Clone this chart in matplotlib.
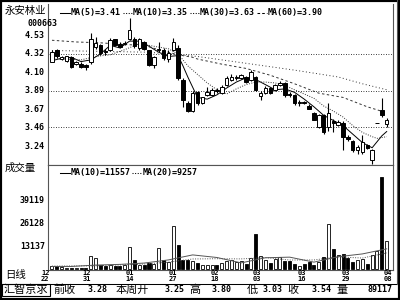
import matplotlib
matplotlib.use("Agg")
import numpy as np
import matplotlib.pyplot as plt
from matplotlib.lines import Line2D
from matplotlib.patches import Rectangle

plt.rcParams['font.family'] = ['DejaVu Sans Mono', 'Noto Sans CJK SC']

# daily candles (70 bars)
opens = [4.23, 4.36, 4.26, 4.24, 4.28, 4.20, 4.20, 4.19, 4.22, 4.40,
         4.42, 4.35, 4.37, 4.49, 4.44, 4.44, 4.50, 4.49, 4.39, 4.46,
         4.36, 4.19, 4.36, 4.37, 4.26, 4.37, 4.39, 4.02, 3.75, 3.65,
         3.87, 3.74, 3.84, 3.84, 3.90, 3.86, 3.95, 4.01, 4.04, 4.04,
         4.05, 4.01, 4.05, 3.83, 3.86, 3.92, 3.90, 3.95, 3.98, 3.85,
         3.84, 3.75, 3.76, 3.71, 3.63, 3.46, 3.60, 3.46, 3.53, 3.49,
         3.51, 3.35, 3.30, 3.19, 3.17, 3.25, 3.08, 3.51, 3.66, 3.50]
highs = [4.37, 4.38, 4.29, 4.30, 4.29, 4.24, 4.22, 4.20, 4.57, 4.52,
         4.44, 4.38, 4.51, 4.50, 4.46, 4.47, 4.74, 4.52, 4.51, 4.47,
         4.37, 4.30, 4.46, 4.39, 4.36, 4.51, 4.42, 4.04, 3.77, 3.88,
         3.89, 3.82, 3.93, 3.92, 3.92, 3.95, 4.06, 4.08, 4.07, 4.09,
         4.06, 4.13, 4.06, 3.88, 3.94, 3.93, 3.97, 4.00, 3.99, 3.87,
         3.85, 3.78, 3.77, 3.73, 3.64, 3.62, 3.62, 3.74, 3.56, 3.54,
         3.53, 3.37, 3.31, 3.25, 3.37, 3.26, 3.21, 3.51, 3.80, 3.57]
lows = [4.22, 4.27, 4.25, 4.23, 4.16, 4.19, 4.15, 4.13, 4.20, 4.38,
        4.31, 4.31, 4.35, 4.41, 4.39, 4.43, 4.48, 4.39, 4.37, 4.36,
        4.18, 4.16, 4.34, 4.25, 4.23, 4.35, 4.02, 3.70, 3.64, 3.64,
        3.72, 3.73, 3.83, 3.83, 3.86, 3.85, 3.94, 4.00, 4.02, 4.03,
        3.98, 4.00, 3.88, 3.78, 3.85, 3.85, 3.89, 3.94, 3.82, 3.82,
        3.72, 3.71, 3.73, 3.67, 3.54, 3.45, 3.38, 3.42, 3.40, 3.47,
        3.19, 3.30, 3.17, 3.15, 3.15, 3.21, 3.03, 3.51, 3.58, 3.46]
closes = [4.34, 4.30, 4.28, 4.29, 4.17, 4.23, 4.17, 4.17, 4.49, 4.45,
          4.33, 4.34, 4.48, 4.42, 4.40, 4.45, 4.60, 4.41, 4.49, 4.38,
          4.19, 4.28, 4.38, 4.27, 4.33, 4.46, 4.04, 3.78, 3.65, 3.86,
          3.74, 3.81, 3.87, 3.90, 3.88, 3.93, 4.04, 4.05, 4.05, 4.07,
          3.99, 4.11, 3.90, 3.86, 3.92, 3.86, 3.96, 3.98, 3.84, 3.84,
          3.74, 3.76, 3.75, 3.68, 3.55, 3.60, 3.40, 3.63, 3.51, 3.52,
          3.35, 3.32, 3.19, 3.23, 3.29, 3.22, 3.19, 3.51, 3.60, 3.54]
volumes = [1700, 1700, 1100, 1000, 1000, 1000, 1000, 1000, 7700, 6600,
           2600, 2000, 2200, 1800, 1800, 2200, 12600, 5100, 2600, 2300,
           3500, 3200, 12200, 5100, 4200, 24500, 13900, 5100, 5100, 4500,
           3500, 2600, 2300, 2600, 2600, 3500, 4700, 5500, 4400, 4500,
           3200, 6600, 19800, 7500, 5500, 3500, 6000, 7100, 4700, 4700,
           3200, 1800, 3200, 3900, 2300, 3900, 7100, 25800, 11700, 8100,
           8500, 6400, 4200, 5400, 5800, 2800, 7900, 10400, 52000, 16000]

# moving averages read at a few bars
ma5_idx = [0, 2, 4, 6, 8, 10, 12, 14, 16, 18, 20, 22, 24, 26, 27, 28, 30, 32, 34,
           36, 38, 40, 42, 44, 46, 48, 50, 52, 54, 56, 58, 60, 62, 64, 66, 67, 68, 69]
ma5 = [4.24, 4.27, 4.28, 4.23, 4.25, 4.32, 4.42, 4.39, 4.47, 4.47, 4.41, 4.34, 4.29,
       4.30, 4.18, 4.05, 3.81, 3.79, 3.84, 3.92, 3.99, 4.04, 4.02, 3.96, 3.90, 3.91,
       3.87, 3.79, 3.70, 3.60, 3.54, 3.48, 3.38, 3.28, 3.22, 3.29, 3.36, 3.41]
ma10_idx = [0, 3, 6, 9, 12, 15, 18, 21, 24, 26, 28, 30, 32, 34, 36, 38, 40, 42, 44,
            46, 48, 50, 52, 54, 56, 58, 60, 62, 64, 66, 67, 68, 69]
ma10 = [4.26, 4.26, 4.25, 4.29, 4.31, 4.37, 4.44, 4.41, 4.38, 4.32, 4.18, 4.08, 3.98,
        3.90, 3.85, 3.91, 3.96, 3.99, 3.99, 3.98, 3.95, 3.90, 3.85, 3.80, 3.71, 3.65,
        3.58, 3.48, 3.40, 3.35, 3.33, 3.34, 3.35]
ma30_idx = [0, 5, 10, 15, 19, 22, 26, 29, 30, 35, 40, 45, 50, 55, 60, 65, 69]
ma30 = [4.48, 4.46, 4.45, 4.43, 4.42, 4.37, 4.31, 4.28, 4.26, 4.20, 4.15, 4.07, 3.97,
        3.86, 3.81, 3.70, 3.63]
ma60_idx = [0, 10, 20, 30, 40, 50, 59, 64, 69]
ma60 = [4.36, 4.35, 4.34, 4.29, 4.21, 4.13, 4.05, 3.97, 3.90]

vma10_idx = [0, 4, 9, 14, 19, 24, 29, 34, 39, 44, 49, 54, 59, 64, 69]
vma10 = [1600, 1600, 2380, 2770, 3520, 5300, 8130, 6670, 3620, 6520, 6860, 4040,
         7100, 8690, 11557]
vma20_idx = [0, 9, 19, 24, 29, 34, 39, 44, 49, 54, 59, 64, 69]
vma20 = [1800, 2000, 2950, 4035, 5825, 5985, 5875, 6595, 5240, 5280, 6980, 6365, 9257]

price_ticks = [4.53, 4.32, 4.10, 3.89, 3.67, 3.46, 3.24]
price_grid = [4.32, 3.89, 3.46]
vol_ticks = [39119, 26128, 13137]
date_labels = ["12/22", "12/31", "01/14", "01/27", "02/18", "03/03", "03/16", "03/29", "04/08"]
date_pos = [-1.4, 7.2, 16.1, 24.9, 33.6, 42.3, 51.5, 60.6, 69.3]

W, H = 400, 300
CJK = ['Noto Sans CJK SC', 'DejaVu Sans']
GRAY = '#555555'


def fx(x):
    return x / W


def fy(y):
    return 1 - y / H


def ftext(x, y, s, size=6, ha='left', family=None, weight='bold', **kw):
    fig.text(fx(x), fy(y), s, fontsize=size, ha=ha, va='center',
             family=family or ['DejaVu Sans Mono'], fontweight=weight, **kw)


def fline(x0, x1, y, ls='-', color='black'):
    fig.add_artist(Line2D([fx(x0), fx(x1)], [fy(y), fy(y)], transform=fig.transFigure,
                          color=color, lw=0.75, ls=ls))


fig = plt.figure(figsize=(4, 3), dpi=100)
fig.patch.set_facecolor('white')

ax = fig.add_axes([fx(48), fy(165), fx(393) - fx(48), fy(4) - fy(165)])
axv = fig.add_axes([fx(48), fy(270), fx(393) - fx(48), fy(165) - fy(270)])

idx = np.arange(len(closes))
for a in (ax, axv):
    a.set_xlim(-0.82, 70.3)
    a.set_xticks([])
    a.set_yticks([])
    for s in a.spines.values():
        s.set_color(GRAY)
        s.set_linewidth(0.8)
ax.spines['top'].set_visible(False)
ax.set_ylim(3.018, 4.905)
axv.set_ylim(-400, 58930)

# price panel
for g in price_grid:
    ax.axhline(g, color='black', lw=0.6, ls=(0, (1, 2)), zorder=1)

for i in idx:
    o, h, l, c = opens[i], highs[i], lows[i], closes[i]
    up = c >= o
    ax.vlines(i, l, h, color='black', lw=0.8, zorder=3)
    ax.add_patch(Rectangle((i - 0.36, min(o, c)), 0.72, max(abs(c - o), 0.004),
                           facecolor='white' if up else 'black', edgecolor='black',
                           lw=0.7, zorder=4))

ax.plot(ma5_idx, ma5, color='black', lw=0.7, zorder=2)
ax.plot(ma10_idx, ma10, color='#333333', lw=0.7, ls=(0, (1, 1.5)), zorder=2)
ax.plot(ma30_idx, ma30, color='#333333', lw=0.7, ls=(0, (2.5, 2.5)), zorder=2)
ax.plot(ma60_idx, ma60, color='#333333', lw=0.7, ls=(0, (1, 2.5)), zorder=2)

for p in price_ticks:
    ax.text(-0.009, p, f"{p:.2f}", transform=ax.get_yaxis_transform(), ha='right',
            va='center', fontsize=6, fontweight='bold')

# volume panel
vcol = ['white' if closes[i] >= opens[i] else 'black' for i in idx]
axv.bar(idx, volumes, width=0.62, color=vcol, edgecolor='black', lw=0.6, zorder=3)
axv.plot(vma10_idx, vma10, color=GRAY, lw=0.7, zorder=4)
axv.plot(vma20_idx, vma20, color=GRAY, lw=0.7, ls=(0, (1, 1.5)), zorder=4)

for v in vol_ticks:
    axv.text(-0.009, v, str(v), transform=axv.get_yaxis_transform(), ha='right',
             va='center', fontsize=6, fontweight='bold')

for pos, lab in zip(date_pos, date_labels):
    m, d = lab.split('/')
    axv.text(pos, -0.03, m, transform=axv.get_xaxis_transform(), ha='center',
             va='center', fontsize=5, fontweight='bold')
    axv.text(pos, -0.09, d, transform=axv.get_xaxis_transform(), ha='center',
             va='center', fontsize=5, fontweight='bold')

# legends and left labels
fline(60, 70, 13)
ftext(71, 13, "MA(5)=3.41")
fline(123, 132, 13, ls=(0, (1, 1.5)))
ftext(133, 13, "MA(10)=3.35")
fline(190, 199, 13, ls=(0, (1, 1.5)))
ftext(200, 13, "MA(30)=3.63")
fline(257, 267, 13, ls=(0, (2.5, 2)))
ftext(268, 13, "MA(60)=3.90")

fline(60, 70, 173)
ftext(71, 173, "MA(10)=11557")
fline(132, 142, 173, ls=(0, (1, 1.5)))
ftext(143, 173, "MA(20)=9257")

ftext(25, 11, "永安林业", size=7.5, ha='center', family=CJK, weight='normal')
ftext(27, 23, "000663")
ftext(20, 168, "成交量", size=7.5, ha='center', family=CJK, weight='normal')
ftext(16, 275, "日线", size=7.5, ha='center', family=CJK, weight='normal')

# status bar
fline(0, 400, 283.5, color='black')
fig.add_artist(Rectangle((fx(2), fy(296)), fx(50) - fx(2), fy(284) - fy(296),
                         transform=fig.transFigure, fill=False, edgecolor='black', lw=0.8))
status = [(26, "汇智京求", True), (65, "前收", True), (98, "3.28", False),
          (132, "本周开", True), (175, "3.25", False), (195, "高", True),
          (222, "3.80", False), (252, "低", True), (273, "3.03", False),
          (293, "收", True), (322, "3.54", False), (342, "量", True),
          (380, "89117", False)]
for x, s, cjk in status:
    if cjk:
        ftext(x, 290, s, size=8, ha='center', family=CJK, weight='normal')
    else:
        ftext(x, 290, s, size=6, ha='center')

# outer frame with double right edge
fig.add_artist(Line2D([fx(397), fx(397)], [fy(0), fy(283.5)], transform=fig.transFigure,
                      color=GRAY, lw=0.8))
fig.add_artist(Rectangle((0, 0), 1, 1, transform=fig.transFigure, fill=False,
                         edgecolor='black', lw=3))

fig.savefig("out.png", dpi=100)
